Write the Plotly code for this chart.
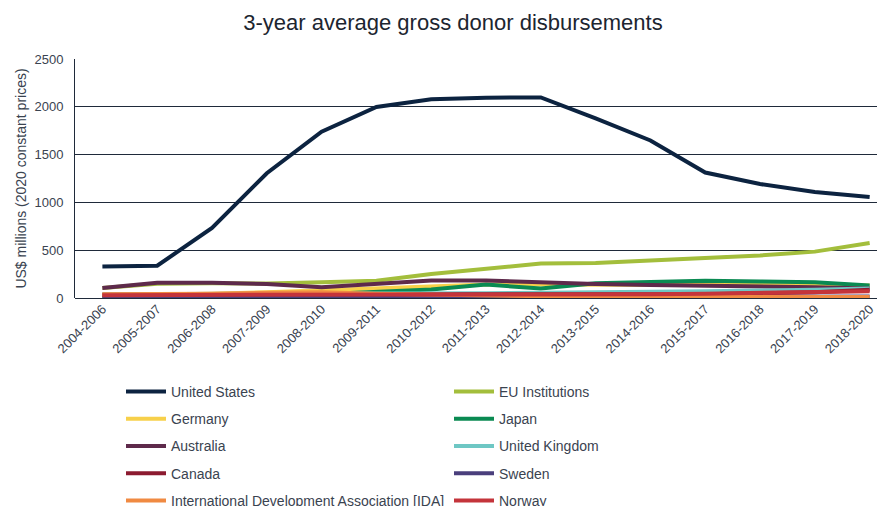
import plotly.graph_objects as go

periods = ["2004-2006", "2005-2007", "2006-2008", "2007-2009", "2008-2010", "2009-2011",
           "2010-2012", "2011-2013", "2012-2014", "2013-2015", "2014-2016", "2015-2017",
           "2016-2018", "2017-2019", "2018-2020"]

united_states = [330, 338, 732, 1305, 1740, 1998, 2080, 2095, 2098, 1880, 1648, 1312, 1192, 1108, 1057]
eu_institutions = [105, 150, 155, 152, 165, 180, 250, 300, 360, 365, 390, 410, 445, 485, 575]
germany = [30, 35, 45, 60, 80, 110, 125, 140, 140, 135, 135, 135, 135, 135, 130]
japan = [20, 20, 25, 30, 40, 65, 90, 140, 100, 155, 165, 180, 172, 165, 130]
australia = [104, 160, 160, 146, 112, 146, 182, 184, 160, 146, 136, 130, 122, 112, 100]
united_kingdom = [40, 40, 40, 45, 45, 45, 45, 50, 55, 65, 65, 70, 75, 85, 100]
canada = [35, 35, 35, 35, 35, 35, 35, 35, 35, 35, 40, 40, 50, 60, 85]
sweden = [5, 5, 5, 5, 5, 8, 8, 8, 8, 8, 8, 8, 10, 10, 15]
ida = [38, 40, 45, 55, 60, 45, 35, 25, 15, 10, 10, 10, 10, 10, 10]
norway = [30, 30, 30, 30, 30, 30, 30, 30, 30, 35, 40, 45, 50, 60, 70]

series = [
    ("United States", united_states, "#0c2340", "legend"),
    ("EU Institutions", eu_institutions, "#a3be3c", "legend2"),
    ("Germany", germany, "#f7d04a", "legend"),
    ("Japan", japan, "#0a8a52", "legend2"),
    ("Australia", australia, "#5e2a4b", "legend"),
    ("United Kingdom", united_kingdom, "#6ec7c4", "legend2"),
    ("Canada", canada, "#8c1b30", "legend"),
    ("Sweden", sweden, "#4a3f7c", "legend2"),
    ("International Development Association [IDA]", ida, "#f08a42", "legend"),
    ("Norway", norway, "#c4343b", "legend2"),
]

fig = go.Figure()
for name, vals, color, lg in series:
    fig.add_trace(go.Scatter(
        x=periods, y=vals, name=name, mode="lines",
        line=dict(color=color, width=4),
        legend=lg, legendgroup=name,
    ))

font_family = "Liberation Sans, Arial, sans-serif"
text_color = "#3a4350"

# page body has an 8px margin, so layout coords = page coords - 8
W, H = 877, 498
L, T = 67, 51
plot_bottom = 290
plot_h = plot_bottom - T
plot_w = W - L

legend_common = dict(
    orientation="v", yanchor="top", xanchor="left",
    font=dict(family=font_family, size=14, color=text_color),
    bgcolor="rgba(0,0,0,0)", tracegroupgap=6, itemwidth=40,
    traceorder="grouped",
)

fig.update_layout(
    width=W, height=H,
    margin=dict(l=L, r=0, t=T, b=H - plot_bottom, autoexpand=False),
    paper_bgcolor="white", plot_bgcolor="white",
    title=dict(text="3-year average gross donor disbursements",
               x=445 / W, xanchor="center", y=1 - 14 / H, yanchor="middle",
               font=dict(family=font_family, size=22, color="#1c2530")),
    xaxis=dict(type="category", range=[-0.5, 14.28], tickangle=-45,
               showgrid=False, showline=False, ticks="",
               tickfont=dict(family=font_family, size=13, color=text_color)),
    yaxis=dict(range=[0, 2500], dtick=500, showgrid=True, gridcolor="#1f2a3a", gridwidth=1,
               showline=True, linecolor="#1f2a3a", linewidth=1,
               zeroline=True, zerolinecolor="#1f2a3a", zerolinewidth=1,
               ticks="", ticklabelstandoff=8,
               tickfont=dict(family=font_family, size=13, color=text_color),
               title=dict(text="US$ millions (2020 constant prices)", standoff=4,
                          font=dict(family=font_family, size=14, color=text_color))),
    legend=dict(x=(113 - L) / plot_w, y=(plot_bottom - 368) / plot_h, **legend_common),
    legend2=dict(x=(441 - L) / plot_w, y=(plot_bottom - 368) / plot_h, **legend_common),
    showlegend=True,
)

fig.write_html("out.html")
